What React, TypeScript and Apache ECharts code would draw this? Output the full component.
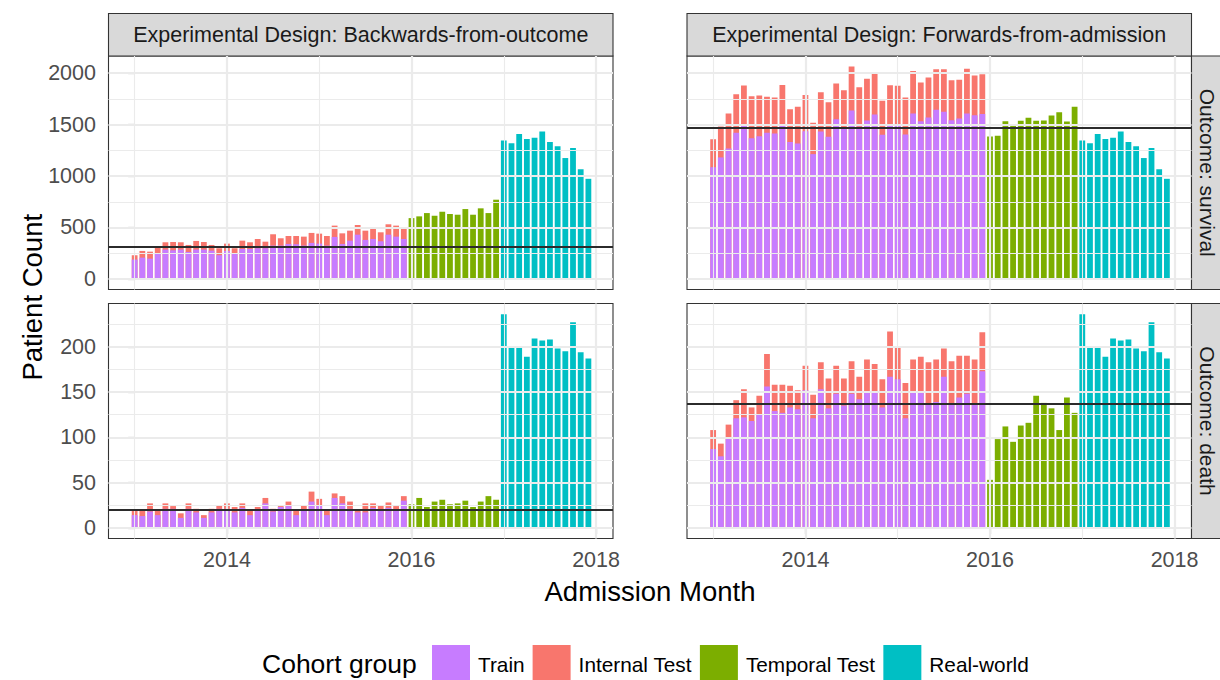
import React, { useEffect, useRef } from "react";
import * as echarts from "echarts";

const FONT = "'Liberation Sans', Arial, Helvetica, sans-serif";

// Cohort groups and their fills
const COHORTS = ["Train", "Internal Test", "Temporal Test", "Real-world"];
const COHORT_COLORS = ["#C77CFF", "#F8766D", "#7CAE00", "#00BFC4"];

// Admission months are indexed from Jan 2013 (0) to Dec 2017 (59)
const START_YEAR = 2013;
const TRAIN_START = 0; // Jan 2013 - Dec 2015
const TEMPORAL_START = 36; // Jan 2016 - Dec 2016
const REAL_WORLD_START = 48; // Jan 2017 - Dec 2017

// --- Backwards-from-outcome, survival ---
const bwdSurvivalTrain = [188, 207, 197, 252, 285, 278, 285, 262, 285, 285, 275, 230, 272, 249, 291, 291, 298, 298, 324, 324, 340, 337, 324, 350, 343, 324, 408, 340, 372, 430, 379, 388, 366, 430, 411, 388];
const bwdSurvivalInternal = [42, 65, 68, 68, 71, 81, 71, 68, 84, 74, 55, 68, 71, 49, 81, 65, 90, 64, 110, 71, 77, 80, 87, 97, 97, 93, 110, 103, 97, 94, 90, 97, 87, 101, 107, 104];
const bwdSurvivalTemporal = [591, 608, 640, 614, 653, 631, 624, 679, 624, 686, 640, 770];

// --- Forwards-from-admission, survival ---
const fwdSurvivalTrain = [1086, 1181, 1268, 1420, 1504, 1368, 1388, 1420, 1414, 1504, 1330, 1317, 1436, 1213, 1433, 1381, 1553, 1475, 1637, 1479, 1540, 1598, 1401, 1501, 1501, 1404, 1608, 1533, 1569, 1644, 1624, 1543, 1560, 1608, 1592, 1602];
const fwdSurvivalInternal = [272, 301, 340, 376, 376, 408, 394, 350, 349, 382, 320, 356, 353, 304, 382, 337, 346, 360, 427, 385, 405, 401, 330, 382, 376, 359, 414, 376, 389, 394, 414, 389, 375, 434, 385, 388];
const fwdSurvivalTemporal = [1384, 1391, 1533, 1504, 1537, 1566, 1537, 1540, 1588, 1620, 1530, 1673];

// --- Real-world cohort (2017), shared by both designs ---
const realWorldSurvival = [1346, 1320, 1408, 1359, 1372, 1433, 1330, 1290, 1175, 1272, 1066, 973];
const realWorldDeath = [236, 200, 199, 189, 209, 207, 208, 198, 195, 227, 194, 187];

// --- Backwards-from-outcome, death ---
const bwdDeathTrain = [14, 13, 18, 14, 21, 21, 11, 21, 17, 11, 17, 21, 21, 17, 22, 14, 19, 27, 18, 23, 24, 14, 19, 29, 25, 14, 33, 27, 21, 17, 17, 22, 20, 22, 19, 30];
const bwdDeathInternal = [5, 6, 9, 5, 6, 3, 5, 6, 4, 3, 4, 4, 6, 6, 5, 6, 4, 6, 3, 1, 5, 5, 6, 11, 7, 5, 5, 8, 8, 3, 10, 5, 5, 6, 5, 5];
const bwdDeathTemporal = [26, 33, 23, 29, 31, 26, 27, 30, 23, 29, 35, 31];

// --- Forwards-from-admission, death ---
const fwdDeathTrain = [87, 79, 100, 121, 122, 118, 125, 156, 129, 127, 133, 131, 152, 121, 153, 132, 148, 135, 148, 142, 151, 150, 133, 167, 164, 121, 151, 150, 137, 139, 167, 137, 144, 148, 137, 173];
const fwdDeathInternal = [21, 14, 14, 20, 31, 15, 21, 36, 29, 31, 24, 21, 27, 26, 30, 33, 31, 30, 36, 25, 35, 31, 31, 50, 36, 39, 35, 39, 46, 47, 31, 47, 46, 42, 49, 43];
const fwdDeathTemporal = [53, 98, 112, 95, 113, 116, 146, 138, 132, 108, 144, 127];

// Horizontal reference levels per panel
const bwdSurvivalRef = 317;
const fwdSurvivalRef = 1466;
const bwdDeathRef = 20;
const fwdDeathRef = 137;

// Axis breaks
const yearMajorBreaks = [12, 36, 60];
const yearMinorBreaks = [0, 24, 48];
const survivalMajorBreaks = [0, 500, 1000, 1500, 2000];
const survivalMinorBreaks = [250, 750, 1250, 1750];
const deathMajorBreaks = [0, 50, 100, 150, 200];
const deathMinorBreaks = [25, 75, 125, 175, 225];

const X_RANGE = [-3.4, 62.2];
const SURVIVAL_RANGE = [-103, 2167];
const DEATH_RANGE = [-11.8, 247.8];

const DESIGNS = ["Experimental Design: Backwards-from-outcome", "Experimental Design: Forwards-from-admission"];
const OUTCOMES = ["Outcome: survival", "Outcome: death"];

// Panel geometry
const COL_LEFT = [108.5, 687];
const COL_WIDTH = 504.5;
const ROW_TOP = [56, 303.5];
const ROW_HEIGHT = [233.5, 235];
const STRIP_SIZE = 42.5;

const GRID_MAJOR = 2.2;
const GRID_MINOR = 1.1;
const GRID_COLOR = "#EBEBEB";
const INK = "#333333";

type Panel = {
  row: number;
  col: number;
  train: number[];
  internal: number[];
  temporal: number[];
  real: number[];
  ref: number;
  range: number[];
  major: number[];
  minor: number[];
};

const panels: Panel[] = [
  { row: 0, col: 0, train: bwdSurvivalTrain, internal: bwdSurvivalInternal, temporal: bwdSurvivalTemporal, real: realWorldSurvival, ref: bwdSurvivalRef, range: SURVIVAL_RANGE, major: survivalMajorBreaks, minor: survivalMinorBreaks },
  { row: 0, col: 1, train: fwdSurvivalTrain, internal: fwdSurvivalInternal, temporal: fwdSurvivalTemporal, real: realWorldSurvival, ref: fwdSurvivalRef, range: SURVIVAL_RANGE, major: survivalMajorBreaks, minor: survivalMinorBreaks },
  { row: 1, col: 0, train: bwdDeathTrain, internal: bwdDeathInternal, temporal: bwdDeathTemporal, real: realWorldDeath, ref: bwdDeathRef, range: DEATH_RANGE, major: deathMajorBreaks, minor: deathMinorBreaks },
  { row: 1, col: 1, train: fwdDeathTrain, internal: fwdDeathInternal, temporal: fwdDeathTemporal, real: realWorldDeath, ref: fwdDeathRef, range: DEATH_RANGE, major: deathMajorBreaks, minor: deathMinorBreaks },
];

function buildOption(): echarts.EChartsOption {
  const grid = panels.map((p) => ({
    left: COL_LEFT[p.col],
    top: ROW_TOP[p.row],
    width: COL_WIDTH,
    height: ROW_HEIGHT[p.row],
    show: true,
    backgroundColor: "#FFFFFF",
    borderColor: INK,
    borderWidth: 1.1,
  }));

  const tickStyle = { color: INK, width: 1.1 };
  const labelStyle = { color: "#4D4D4D", fontSize: 21.5, fontFamily: FONT };

  const xAxis = panels.map((p, i) => ({
    gridIndex: i,
    type: "value" as const,
    min: X_RANGE[0],
    max: X_RANGE[1],
    axisLine: { show: false },
    splitLine: { show: false },
    axisTick: { show: p.row === 1, customValues: yearMajorBreaks, length: 6.5, lineStyle: tickStyle },
    axisLabel: {
      show: p.row === 1,
      customValues: yearMajorBreaks,
      margin: 10,
      formatter: (v: number) => String(START_YEAR + Math.round(v / 12)),
      ...labelStyle,
    },
  }));

  const yAxis = panels.map((p, i) => ({
    gridIndex: i,
    type: "value" as const,
    min: p.range[0],
    max: p.range[1],
    axisLine: { show: false },
    splitLine: { show: false },
    axisTick: { show: p.col === 0, customValues: p.major, length: 6.5, lineStyle: tickStyle },
    axisLabel: {
      show: p.col === 0,
      customValues: p.major,
      margin: 12.5,
      formatter: (v: number) => String(Math.round(v)),
      ...labelStyle,
    },
  }));

  const series: any[] = [];
  panels.forEach((p, i) => {
    const gridLines = [
      ...yearMajorBreaks.map((v) => ({ xAxis: v, lineStyle: { width: GRID_MAJOR } })),
      ...yearMinorBreaks.map((v) => ({ xAxis: v, lineStyle: { width: GRID_MINOR } })),
      ...p.major.map((v) => ({ yAxis: v, lineStyle: { width: GRID_MAJOR } })),
      ...p.minor.map((v) => ({ yAxis: v, lineStyle: { width: GRID_MINOR } })),
    ];
    series.push({
      type: "line",
      name: "panel-grid",
      xAxisIndex: i,
      yAxisIndex: i,
      data: [],
      z: 1,
      silent: true,
      markLine: {
        silent: true,
        symbol: ["none", "none"],
        label: { show: false },
        emphasis: { disabled: true },
        lineStyle: { type: "solid", color: GRID_COLOR },
        data: gridLines,
      },
    });

    const barBase = {
      type: "bar",
      xAxisIndex: i,
      yAxisIndex: i,
      barWidth: 5.8,
      barGap: "-100%",
      silent: true,
    };
    // Internal Test sits on top of Train: its bar reaches Train + Internal Test
    series.push({
      ...barBase,
      name: COHORTS[1],
      z: 2,
      itemStyle: { color: COHORT_COLORS[1] },
      data: p.train.map((t, k) => [TRAIN_START + k, t + p.internal[k]]),
    });
    series.push({
      ...barBase,
      name: COHORTS[0],
      z: 3,
      itemStyle: { color: COHORT_COLORS[0] },
      data: p.train.map((t, k) => [TRAIN_START + k, t]),
    });
    series.push({
      ...barBase,
      name: COHORTS[2],
      z: 3,
      itemStyle: { color: COHORT_COLORS[2] },
      data: p.temporal.map((v, k) => [TEMPORAL_START + k, v]),
    });
    series.push({
      ...barBase,
      name: COHORTS[3],
      z: 3,
      itemStyle: { color: COHORT_COLORS[3] },
      data: p.real.map((v, k) => [REAL_WORLD_START + k, v]),
    });

    series.push({
      type: "line",
      name: "reference-level",
      xAxisIndex: i,
      yAxisIndex: i,
      data: [],
      z: 5,
      silent: true,
      markLine: {
        silent: true,
        symbol: ["none", "none"],
        label: { show: false },
        emphasis: { disabled: true },
        lineStyle: { type: "solid", color: "#2B2B2B", width: 1.9 },
        data: [{ yAxis: p.ref }],
      },
    });
  });

  const stripStyle = { fill: "#D9D9D9", stroke: INK, lineWidth: 1.1 };
  const stripText = { fill: "#1A1A1A", fontSize: 21.5, fontFamily: FONT, align: "center", verticalAlign: "middle", textAlign: "center", textVerticalAlign: "middle" };

  const graphic: any[] = [];
  DESIGNS.forEach((label, c) => {
    graphic.push({
      type: "rect",
      shape: { x: COL_LEFT[c], y: ROW_TOP[0] - STRIP_SIZE, width: COL_WIDTH, height: STRIP_SIZE },
      style: stripStyle,
      silent: true,
    });
    graphic.push({
      type: "text",
      x: COL_LEFT[c] + COL_WIDTH / 2,
      y: ROW_TOP[0] - STRIP_SIZE / 2,
      style: { text: label, ...stripText },
      silent: true,
    });
  });
  const rightEdge = COL_LEFT[1] + COL_WIDTH;
  OUTCOMES.forEach((label, r) => {
    graphic.push({
      type: "rect",
      shape: { x: rightEdge, y: ROW_TOP[r], width: STRIP_SIZE, height: ROW_HEIGHT[r] },
      style: stripStyle,
      silent: true,
    });
    // the strip runs past the page edge, so its label is kept just inside it
    graphic.push({
      type: "text",
      x: rightEdge + 15.5,
      y: ROW_TOP[r] + ROW_HEIGHT[r] / 2,
      rotation: -Math.PI / 2,
      style: { text: label, ...stripText, fontSize: 21 },
      silent: true,
    });
  });

  const titleText = { fill: "#000000", fontSize: 27.5, fontFamily: FONT };
  graphic.push({
    type: "text",
    x: 32,
    y: (ROW_TOP[0] + ROW_TOP[1] + ROW_HEIGHT[1]) / 2,
    rotation: Math.PI / 2,
    style: { text: "Patient Count", ...titleText, align: "center", verticalAlign: "middle", textAlign: "center", textVerticalAlign: "middle" },
    silent: true,
  });
  graphic.push({
    type: "text",
    x: (COL_LEFT[0] + rightEdge) / 2,
    y: 591,
    style: { text: "Admission Month", ...titleText, align: "center", verticalAlign: "middle", textAlign: "center", textVerticalAlign: "middle" },
    silent: true,
  });
  graphic.push({
    type: "text",
    x: 262,
    y: 664,
    style: { text: "Cohort group", ...titleText, fontSize: 26.5, align: "left", verticalAlign: "middle", textAlign: "left", textVerticalAlign: "middle" },
    silent: true,
  });

  return {
    animation: false,
    backgroundColor: "#FFFFFF",
    textStyle: { fontFamily: FONT },
    grid,
    xAxis,
    yAxis,
    series,
    graphic,
    legend: {
      data: COHORTS,
      left: 432,
      top: 645,
      padding: 0,
      orient: "horizontal",
      icon: "rect",
      itemWidth: 38,
      itemHeight: 38,
      itemGap: 8,
      selectedMode: false,
      textStyle: { fontSize: 20.8, color: "#000000", fontFamily: FONT, padding: [0, 0, 0, 3] },
    },
  } as echarts.EChartsOption;
}

export default function App() {
  const ref = useRef<HTMLDivElement>(null);

  useEffect(() => {
    if (!ref.current) return;
    const chart = echarts.init(ref.current, undefined, { renderer: "svg" });
    chart.setOption(buildOption());
    return () => chart.dispose();
  }, []);

  return (
    <div
      ref={ref}
      style={{ position: "absolute", left: 0, top: 0, width: 1220, height: 680, background: "#FFFFFF" }}
    />
  );
}
